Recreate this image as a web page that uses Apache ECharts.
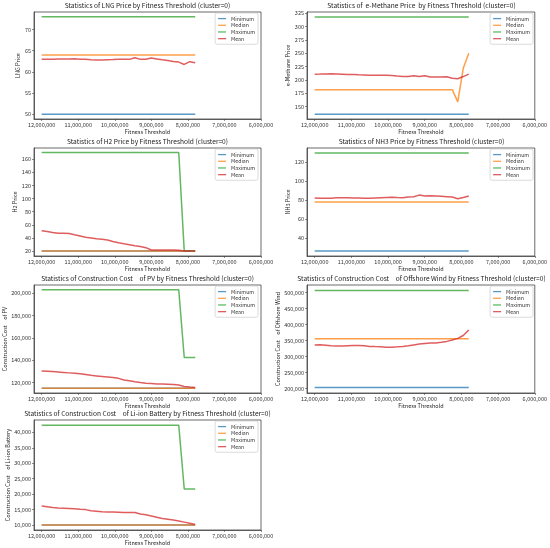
<!DOCTYPE html>
<html>
<head>
<meta charset="utf-8">
<script src="https://cdn.jsdelivr.net/npm/echarts@6/dist/echarts.min.js"></script>
<style>
  html, body { margin: 0; padding: 0; background: #fff; }
  #chart { width: 550px; height: 548px; }
</style>
</head>
<body>
<div id="chart"></div>
<script>
// fitness thresholds (x values, shared by every panel)
const thresholds = [12000000, 11850000, 11700000, 11550000, 11400000, 11250000, 11100000, 10950000, 10800000, 10650000,
  10500000, 10350000, 10200000, 10050000, 9900000, 9750000, 9600000, 9450000, 9300000, 9150000,
  9000000, 8850000, 8700000, 8550000, 8400000, 8250000, 8100000, 7950000, 7800000];
const xTicks = [12000000, 11000000, 10000000, 9000000, 8000000, 7000000, 6000000];
const seriesNames = ['Minimum', 'Median', 'Maximum', 'Mean'];

// LNG price
const lngMin = [50,50,50,50,50,50,50,50,50,50,50,50,50,50,50,50,50,50,50,50,50,50,50,50,50,50,50,50,50];
const lngMedian = [64,64,64,64,64,64,64,64,64,64,64,64,64,64,64,64,64,64,64,64,64,64,64,64,64,64,64,64,64];
const lngMax = [73,73,73,73,73,73,73,73,73,73,73,73,73,73,73,73,73,73,73,73,73,73,73,73,73,73,73,73,73];
const lngMean = [62.95,62.95,63.0,63.05,63.05,63.05,63.1,63.0,62.95,62.85,62.8,62.8,62.85,62.9,63.0,63.0,62.95,63.35,62.95,63.0,
  63.25,63.05,62.85,62.7,62.45,62.3,61.75,62.4,62.15];
const lngTicks = [50, 55, 60, 65, 70];

// e-Methane price
const emMin = [136,136,136,136,136,136,136,136,136,136,136,136,136,136,136,136,136,136,136,136,136,136,136,136,136,136,136,136,136];
const emMedian = [182,182,182,182,182,182,182,182,182,182,182,182,182,182,182,182,182,182,182,182,182,182,182,182,182,182,159,222,250];
const emMax = [318,318,318,318,318,318,318,318,318,318,318,318,318,318,318,318,318,318,318,318,318,318,318,318,318,318,318,318,318];
const emMean = [211.0,211.2,211.5,211.8,211.4,211.0,210.5,210.2,209.8,209.5,209.2,209.0,209.0,208.8,208.5,207.5,206.8,206.8,208.0,206.5,
  208.2,205.8,205.5,205.5,206.2,203.2,202.5,206.5,211.0];
const emTicks = [150, 175, 200, 225, 250, 275, 300, 325];

// H2 price
const h2Min = [20,20,20,20,20,20,20,20,20,20,20,20,20,20,20,20,20,20,20,20,20,20,20,20,20,20,20,20,20];
const h2Median = [20,20,20,20,20,20,20,20,20,20,20,20,20,20,20,20,20,20,20,20,20,20,20,20,20,20,20,20,20];
const h2Max = [170,170,170,170,170,170,170,170,170,170,170,170,170,170,170,170,170,170,170,170,170,170,170,170,170,170,20,20,20];
const h2Mean = [50.8,49.8,48.4,47.3,47.0,46.7,44.8,43.0,41.0,39.8,38.6,37.9,36.8,34.5,32.6,31.0,29.8,28.2,26.8,25.2,
  21.6,21.5,21.5,21.6,21.5,21.4,20.2,20.1,20.0];
const h2Ticks = [20, 40, 60, 80, 100, 120, 140, 160];

// NH3 price
const nh3Min = [26,26,26,26,26,26,26,26,26,26,26,26,26,26,26,26,26,26,26,26,26,26,26,26,26,26,26,26,26];
const nh3Median = [78,78,78,78,78,78,78,78,78,78,78,78,78,78,78,78,78,78,78,78,78,78,78,78,78,78,78,78,78];
const nh3Max = [130,130,130,130,130,130,130,130,130,130,130,130,130,130,130,130,130,130,130,130,130,130,130,130,130,130,130,130,130];
const nh3Mean = [82.3,82.1,81.9,82.0,82.4,82.6,82.4,82.2,82.3,82.1,82.0,82.3,82.6,82.8,82.9,82.7,82.6,83.3,83.6,85.3,
  84.4,84.7,84.4,84.0,83.6,83.2,81.4,82.8,84.3];
const nh3Ticks = [40, 60, 80, 100, 120];

// construction cost of PV
const pvMin = [115000,115000,115000,115000,115000,115000,115000,115000,115000,115000,115000,115000,115000,115000,115000,
  115000,115000,115000,115000,115000,115000,115000,115000,115000,115000,115000,115000,115000,115000];
const pvMedian = [115000,115000,115000,115000,115000,115000,115000,115000,115000,115000,115000,115000,115000,115000,115000,
  115000,115000,115000,115000,115000,115000,115000,115000,115000,115000,115000,115000,115000,115000];
const pvMax = [203000,203000,203000,203000,203000,203000,203000,203000,203000,203000,203000,203000,203000,203000,203000,
  203000,203000,203000,203000,203000,203000,203000,203000,203000,203000,203000,142500,142500,142500];
const pvMean = [130400,130200,129900,129500,129100,128700,128300,127900,127200,126500,126000,125500,125000,124500,123800,
  122300,121600,120800,120100,119500,119200,118800,118700,118500,118300,117800,116600,116000,115600];
const pvTicks = [120000, 140000, 160000, 180000, 200000];

// construction cost of offshore wind
const owMin = [203000,203000,203000,203000,203000,203000,203000,203000,203000,203000,203000,203000,203000,203000,203000,
  203000,203000,203000,203000,203000,203000,203000,203000,203000,203000,203000,203000,203000,203000];
const owMedian = [355500,355500,355500,355500,355500,355500,355500,355500,355500,355500,355500,355500,355500,355500,355500,
  355500,355500,355500,355500,355500,355500,355500,355500,355500,355500,355500,355500,355500,355500];
const owMax = [507000,507000,507000,507000,507000,507000,507000,507000,507000,507000,507000,507000,507000,507000,507000,
  507000,507000,507000,507000,507000,507000,507000,507000,507000,507000,507000,507000,507000,507000];
const owMean = [336200,337000,335500,333500,333200,333300,334200,335000,334800,333500,331500,331200,331000,329500,329300,
  330500,331800,333800,336500,339000,341200,342500,342500,344500,347500,352000,357000,366000,383000];
const owTicks = [200000, 250000, 300000, 350000, 400000, 450000, 500000];

// construction cost of Li-ion battery
const liMin = [10000,10000,10000,10000,10000,10000,10000,10000,10000,10000,10000,10000,10000,10000,10000,
  10000,10000,10000,10000,10000,10000,10000,10000,10000,10000,10000,10000,10000,10000];
const liMedian = [10000,10000,10000,10000,10000,10000,10000,10000,10000,10000,10000,10000,10000,10000,10000,
  10000,10000,10000,10000,10000,10000,10000,10000,10000,10000,10000,10000,10000,10000];
const liMax = [42300,42300,42300,42300,42300,42300,42300,42300,42300,42300,42300,42300,42300,42300,42300,
  42300,42300,42300,42300,42300,42300,42300,42300,42300,42300,42300,21700,21700,21700];
const liMean = [16200,15950,15700,15550,15450,15350,15250,15100,15000,14600,14450,14300,14250,14200,14150,
  14100,14100,14050,13600,13300,12950,12500,12100,11850,11600,11300,10950,10600,10200];
const liTicks = [10000, 15000, 20000, 25000, 30000, 35000, 40000];

const panels = [
  {title: 'Statistics of LNG Price by Fitness Threshold (cluster=0)', yName: 'LNG Price',
    yMin: 48.85, yMax: 74.15, ticks: lngTicks, data: [lngMin, lngMedian, lngMax, lngMean], gap: 12},
  {title: 'Statistics of  e-Methane Price  by Fitness Threshold (cluster=0)', yName: 'e-Methane Price',
    yMin: 127, yMax: 327.5, ticks: emTicks, data: [emMin, emMedian, emMax, emMean], gap: 13},
  {title: 'Statistics of H2 Price by Fitness Threshold (cluster=0)', yName: 'H2 Price',
    yMin: 12.5, yMax: 177, ticks: h2Ticks, data: [h2Min, h2Median, h2Max, h2Mean], gap: 14},
  {title: 'Statistics of NH3 Price by Fitness Threshold (cluster=0)', yName: 'NH3 Price',
    yMin: 20.8, yMax: 135.2, ticks: nh3Ticks, data: [nh3Min, nh3Median, nh3Max, nh3Mean], gap: 14},
  {title: 'Statistics of Construction Cost\u3000of PV by Fitness Threshold (cluster=0)', yName: 'Construction Cost\u3000of PV',
    yMin: 110700, yMax: 207300, ticks: pvTicks, data: [pvMin, pvMedian, pvMax, pvMean], gap: 26},
  {title: 'Statistics of Construction Cost\u3000of Offshore Wind by Fitness Threshold (cluster=0)', yName: 'Construction Cost\u3000of Offshore Wind',
    yMin: 186000, yMax: 524000, ticks: owTicks, data: [owMin, owMedian, owMax, owMean], gap: 25},
  {title: 'Statistics of Construction Cost\u3000of Li-ion Battery by Fitness Threshold (cluster=0)', yName: 'Construction Cost\u3000of Li-ion Battery',
    yMin: 8400, yMax: 44000, ticks: liTicks, data: [liMin, liMedian, liMax, liMean], gap: 23}
];

const colors = ['rgba(31,119,180,0.75)', 'rgba(255,127,14,0.75)', 'rgba(44,160,44,0.75)', 'rgba(214,39,40,0.75)'];
const font = '"Noto Sans CJK JP", "DejaVu Sans", sans-serif';
const lefts = [34, 307];
const widths = [227, 229];
const tops = [12, 148, 285, 420];
const heights = [107, 108, 108, 110];

const fmt = v => Number(v).toLocaleString('en-US');

let grid = [], xAxis = [], yAxis = [], series = [], legend = [], title = [];
panels.forEach((p, i) => {
  let col = i % 2, row = Math.floor(i / 2);
  let left = lefts[col], top = tops[row], w = widths[col], h = heights[row];
  grid.push({left: left, top: top, width: w, height: h, show: true, borderColor: '#444', borderWidth: 0.8});
  title.push({
    text: p.title, left: left + w / 2, top: top - 9.5, textAlign: 'center', padding: 0,
    textStyle: {fontSize: 6.6, fontWeight: 'normal', color: '#222', fontFamily: font}
  });
  xAxis.push({
    type: 'value', gridIndex: i, min: 6000000, max: 12210000, inverse: true,
    name: 'Fitness Threshold', nameLocation: 'middle', nameGap: 10.5,
    nameTextStyle: {fontSize: 5.5, color: '#222', fontFamily: font},
    axisLine: {show: true, lineStyle: {color: '#444', width: 0.8}},
    axisTick: {show: true, length: 2, customValues: xTicks, lineStyle: {color: '#444', width: 0.6}},
    axisLabel: {customValues: xTicks, formatter: fmt, fontSize: 5.5, margin: 3, color: '#333', fontFamily: font},
    splitLine: {show: false}
  });
  yAxis.push({
    type: 'value', gridIndex: i, min: p.yMin, max: p.yMax,
    name: p.yName, nameLocation: 'middle', nameGap: p.gap,
    nameTextStyle: {fontSize: 5.5, color: '#222', fontFamily: font},
    axisLine: {show: true, lineStyle: {color: '#444', width: 0.8}},
    axisTick: {show: true, length: 2, customValues: p.ticks, lineStyle: {color: '#444', width: 0.6}},
    axisLabel: {customValues: p.ticks, formatter: fmt, fontSize: 5.5, margin: 3, color: '#333', fontFamily: font},
    splitLine: {show: false}
  });
  p.data.forEach((arr, k) => {
    series.push({
      type: 'line', name: seriesNames[k], xAxisIndex: i, yAxisIndex: i,
      data: thresholds.map((t, j) => [t, arr[j]]),
      showSymbol: false, symbol: 'none', color: colors[k],
      lineStyle: {width: 1.5, color: colors[k]}, animation: false
    });
  });
  legend.push({
    data: seriesNames, orient: 'vertical', right: 550 - (left + w) + 3, top: top + 1,
    icon: 'rect', itemWidth: 8, itemHeight: 1.3, itemGap: 1.5,
    padding: [3, 3, 3, 3], borderColor: '#ccc', borderWidth: 0.7, borderRadius: 2,
    backgroundColor: 'rgba(255,255,255,0.8)',
    textStyle: {fontSize: 5.2, color: '#333', fontFamily: font}
  });
});

const chart = echarts.init(document.getElementById('chart'), null, {renderer: 'canvas'});
chart.setOption({
  animation: false,
  title: title, grid: grid, xAxis: xAxis, yAxis: yAxis, legend: legend, series: series
});
</script>
</body>
</html>
